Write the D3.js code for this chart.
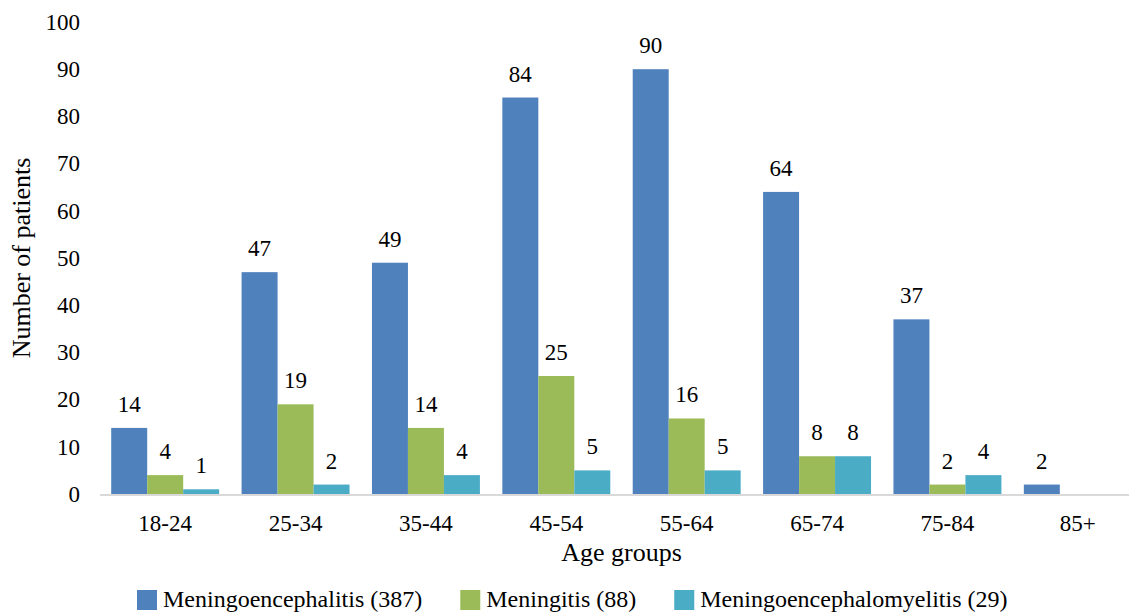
<!DOCTYPE html>
<html>
<head>
<meta charset="utf-8">
<script src="https://cdn.jsdelivr.net/npm/d3@7"></script>
</head>
<body style="margin:0">
<svg width="1129" height="612"></svg>
<script>
const ageGroups = ['18-24', '25-34', '35-44', '45-54', '55-64', '65-74', '75-84', '85+'];
const seriesNames = ['Meningoencephalitis (387)', 'Meningitis (88)', 'Meningoencephalomyelitis (29)'];
const meningoencephalitis = [14, 47, 49, 84, 90, 64, 37, 2];
const meningitis = [4, 19, 14, 25, 16, 8, 2, null];
const meningoencephalomyelitis = [1, 2, 4, 5, 5, 8, 4, null];
const yTicks = [0, 10, 20, 30, 40, 50, 60, 70, 80, 90, 100];
const colors = ['#4f81bd', '#9bbb59', '#4bacc6'];

const series = [meningoencephalitis, meningitis, meningoencephalomyelitis];
const fontName = 'Liberation Serif';

const svg = d3.select('svg');

function serif(sel, size) {
    return sel
        .style('font-family', `"${fontName}"`)
        .style('font-size', size + 'px')
        .attr('fill', '#000');
}

const x0 = d3.scaleBand()
    .domain(ageGroups)
    .range([100, 1143])
    .paddingInner(0.172)
    .paddingOuter(0.086);

const x1 = d3.scaleBand()
    .domain(d3.range(series.length))
    .range([0, x0.bandwidth()]);

const y = d3.scaleLinear()
    .domain([0, 100])
    .range([494, 22]);

// bars + value labels
ageGroups.forEach((g, i) => {
    const grp = svg.append('g')
        .attr('transform', `translate(${x0(g)}, 0)`);
    series.forEach((s, j) => {
        const v = s[i];
        if (v == null) return;
        grp.append('rect')
            .attr('x', x1(j))
            .attr('y', y(v))
            .attr('width', x1.bandwidth())
            .attr('height', y(0) - y(v))
            .attr('fill', colors[j]);
        grp.append('text')
            .attr('x', x1(j) + x1.bandwidth() / 2)
            .attr('y', y(v) - 16)
            .attr('text-anchor', 'middle')
            .call(serif, 23)
            .text(v);
    });
});

// x axis
const xAxis = svg.append('g')
    .attr('transform', `translate(0, ${y(0)})`)
    .call(d3.axisBottom(x0).tickSize(0).tickPadding(0));
xAxis.select('.domain').remove();
xAxis.append('line')
    .attr('x1', 100).attr('x2', 1129)
    .attr('y1', 1).attr('y2', 1)
    .attr('stroke', '#d9d9d9')
    .attr('stroke-width', 2);
xAxis.selectAll('.tick text')
    .attr('dy', null)
    .attr('y', 37)
    .call(serif, 23);

// y axis
const yAxis = svg.append('g')
    .attr('transform', 'translate(80, 0)')
    .call(d3.axisLeft(y).tickValues(yTicks).tickSize(0).tickPadding(0));
yAxis.select('.domain').remove();
yAxis.selectAll('.tick text')
    .call(serif, 23);

// axis titles
svg.append('text')
    .attr('x', (100 + 1143) / 2)
    .attr('y', 561)
    .attr('text-anchor', 'middle')
    .call(serif, 26)
    .text('Age groups');

svg.append('text')
    .attr('transform', `translate(30, ${(y(0) + y(100)) / 2}) rotate(-90)`)
    .attr('text-anchor', 'middle')
    .call(serif, 26)
    .text('Number of patients');

// legend
let lx = 137;
seriesNames.forEach((name, j) => {
    svg.append('rect')
        .attr('x', lx).attr('y', 590)
        .attr('width', 20).attr('height', 20)
        .attr('fill', colors[j]);
    const t = svg.append('text')
        .attr('x', lx + 26)
        .attr('y', 607)
        .call(serif, 24)
        .text(name);
    lx += 26 + t.node().getComputedTextLength() + 38;
});
</script>
</body>
</html>
